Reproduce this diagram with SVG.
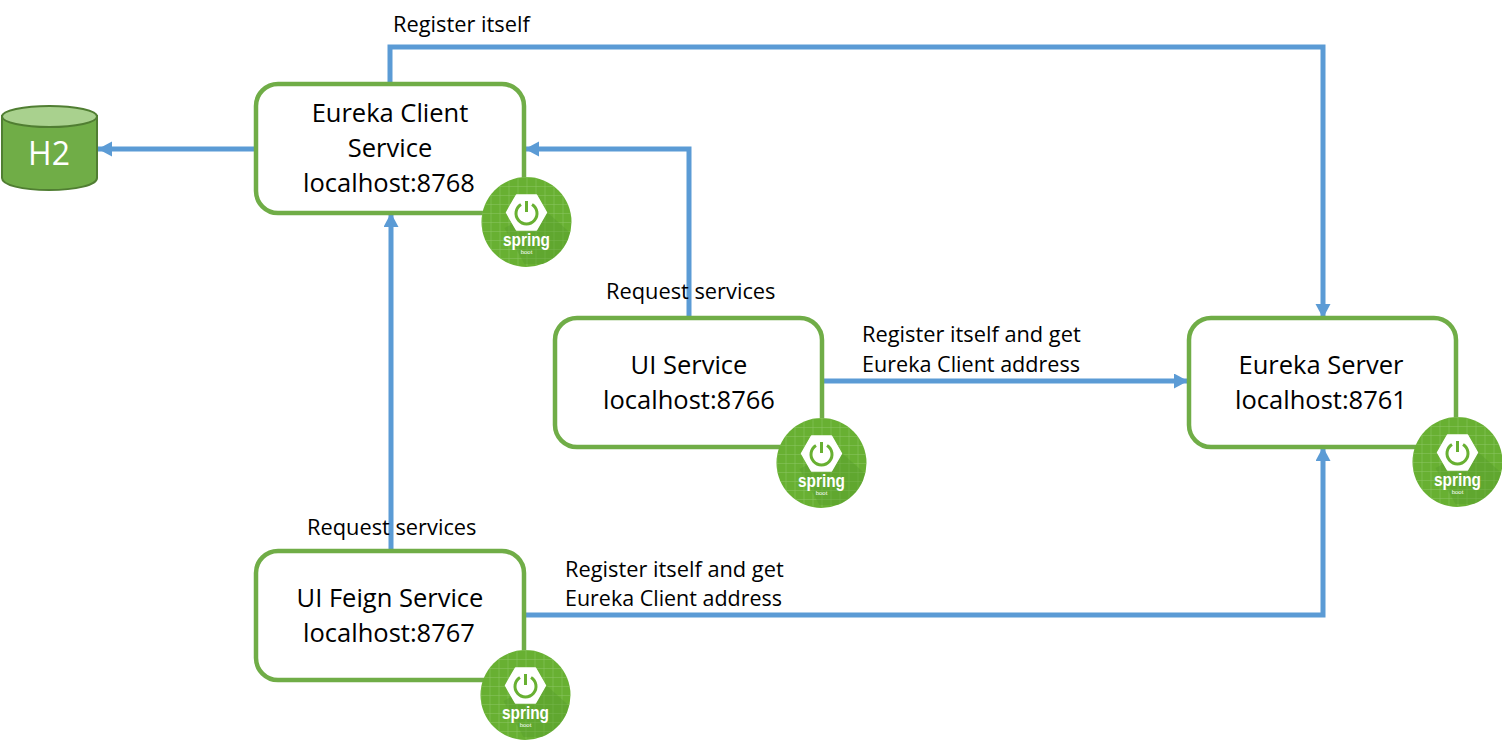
<svg xmlns="http://www.w3.org/2000/svg" width="1502" height="740" viewBox="0 0 1502 740">
<style>
.box{fill:#fff;stroke:#70ad47;stroke-width:4.5}
.c{fill:none;stroke:#5b9bd5;stroke-width:5}
text{font-family:"Open Sans","Noto Sans","Liberation Sans",sans-serif;fill:#000}
.n{font-size:25.500px;text-anchor:middle}
.l{font-size:21.800px}
</style>
<defs>
<marker id="a" markerUnits="userSpaceOnUse" markerWidth="16" markerHeight="16" refX="14" refY="7.500" orient="auto"><path d="M0 0L14 7.500L0 15Z" fill="#5b9bd5"/></marker>
<clipPath id="cc"><circle cx="0" cy="0" r="45"/></clipPath>
<pattern id="g" width="9" height="9" patternUnits="userSpaceOnUse"><path d="M0 0H9M0 0V9" stroke="#a5d585" stroke-width="1" fill="none"/></pattern>
<g id="logo">
<circle r="45" fill="#68b032"/>
<circle r="45" fill="url(#g)" opacity=".6"/>
<path d="M16 -14L45 12V24L26 42L-2 42L-22 6Z" fill="#559a2a" opacity=".4" clip-path="url(#cc)"/>
<path d="M-10 -27H10L20 -9.500L10 8H-10L-20 -9.500Z" fill="#fff" stroke="#fff" stroke-width="1.500" stroke-linejoin="round"/>
<path d="M-5.500 -17.500A10.500 10.500 0 1 0 5.500 -17.500" fill="none" stroke="#68b032" stroke-width="3"/>
<path d="M0 -21V-10" fill="none" stroke="#68b032" stroke-width="3"/>
<text y="24" text-anchor="middle" font-size="17.500" font-weight="700" style="fill:#fff;font-family:'Liberation Sans',sans-serif" textLength="47" lengthAdjust="spacingAndGlyphs">spring</text>
<text y="32" text-anchor="middle" font-size="6" style="fill:#fff;font-family:'Liberation Sans',sans-serif">boot</text>
</g>
</defs>
<g id="connectors">
<path class="c" d="M390 84V47H1323V318" marker-end="url(#a)"/>
<path class="c" d="M256 149H98" marker-end="url(#a)"/>
<path class="c" d="M689 318V149H525" marker-end="url(#a)"/>
<path class="c" d="M391 551V213" marker-end="url(#a)"/>
<path class="c" d="M822 381H1188" marker-end="url(#a)"/>
<path class="c" d="M525 615H1323V447" marker-end="url(#a)"/>
</g>
<g id="h2">
<path d="M2 116V178C2 185 22 190 49 190S97 185 97 178V116Z" fill="#70ad47" stroke="#507e32" stroke-width="2"/>
<ellipse cx="49.500" cy="116.500" rx="47.500" ry="10.500" fill="#a9d18e" stroke="#507e32" stroke-width="2"/>
<text x="49" y="165" text-anchor="middle" style="font-size:32px;fill:#fff">H2</text>
</g>
<g id="eureka-client">
<rect class="box" x="256" y="84" width="268" height="129" rx="22"/>
<text class="n" x="390" y="122">Eureka Client</text>
<text class="n" x="390" y="157">Service</text>
<text class="n" x="389" y="192">localhost:8768</text>
<use href="#logo" x="526.500" y="222"/>
</g>
<g id="ui-service">
<rect class="box" x="555" y="318" width="267" height="129" rx="22"/>
<text class="n" x="689" y="374">UI Service</text>
<text class="n" x="689" y="409">localhost:8766</text>
<use href="#logo" x="821.500" y="463"/>
</g>
<g id="eureka-server">
<rect class="box" x="1189" y="318" width="267" height="129" rx="22"/>
<text class="n" x="1321" y="374">Eureka Server</text>
<text class="n" x="1321" y="409">localhost:8761</text>
<use href="#logo" x="1457.500" y="462"/>
</g>
<g id="ui-feign">
<rect class="box" x="256" y="551" width="268" height="129" rx="22"/>
<text class="n" x="390" y="607">UI Feign Service</text>
<text class="n" x="389" y="642">localhost:8767</text>
<use href="#logo" x="525.500" y="695"/>
</g>
<g id="labels">
<text class="l" x="393" y="32">Register itself</text>
<text class="l" x="606" y="299">Request services</text>
<text class="l" x="862" y="342">Register itself and get</text>
<text class="l" x="862" y="372" textLength="218" lengthAdjust="spacingAndGlyphs">Eureka Client address</text>
<text class="l" x="307" y="535">Request services</text>
<text class="l" x="565" y="577">Register itself and get</text>
<text class="l" x="565" y="606" textLength="217" lengthAdjust="spacingAndGlyphs">Eureka Client address</text>
</g>
</svg>
